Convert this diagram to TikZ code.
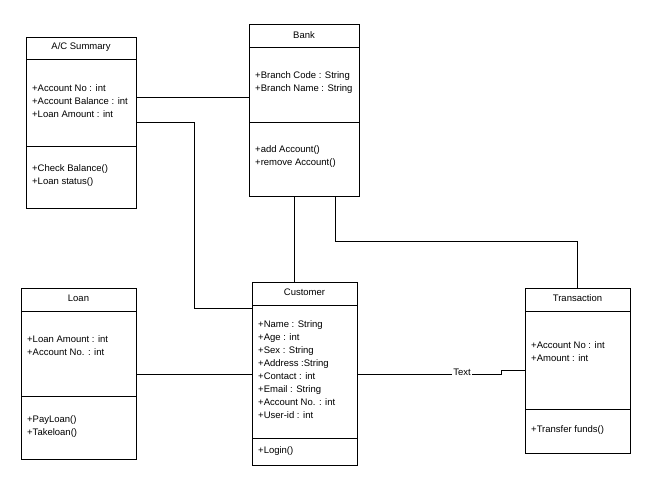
\documentclass[tikz,border=0pt]{standalone}
\usepackage{fontspec}
\setmainfont{Liberation Sans}
\begin{document}
\begin{tikzpicture}[x=1pt,y=-1pt,
  box/.style={draw,line width=0.9pt,inner sep=0pt},
  ln/.style={line width=0.9pt},
  txt/.style={font=\fontsize{9.5}{13}\selectfont,anchor=west,inner sep=0pt,align=left},
  ttl/.style={font=\fontsize{9.5}{13}\selectfont,inner sep=0pt}]
\useasboundingbox (0,0) rectangle (651,490);
% A/C Summary
\node[box,minimum width=110pt,minimum height=171pt] (acs) at (81,122.5) {};
\draw[ln] (26,59) -- (136,59); \draw[ln] (26,146) -- (136,146);
\node[ttl] (acst) at (81,47) {A/C Summary};
\node[txt] (acsa) at (32,101) {+Account No : int\\+Account Balance : int\\+Loan Amount : int};
\node[txt] (acsm) at (32,175.5) {+Check Balance()\\+Loan status()};
% Bank
\node[box,minimum width=110pt,minimum height=172pt] (bank) at (304,110) {};
\draw[ln] (249,47) -- (359,47); \draw[ln] (249,122) -- (359,122);
\node[ttl] (bankt) at (304,35) {Bank};
\node[txt] (banka) at (255,83) {+Branch Code : String\\+Branch Name : String};
\node[txt] (bankm) at (255,157) {+add Account()\\+remove Account()};
% Loan
\node[box,minimum width=115pt,minimum height=171pt] (loan) at (78.5,373.5) {};
\draw[ln] (21,311) -- (136,311); \draw[ln] (21,396) -- (136,396);
\node[ttl] (loant) at (78.5,298) {Loan};
\node[txt] (loana) at (27,345.5) {+Loan Amount : int\\+Account No. : int};
\node[txt] (loanm) at (27,426.5) {+PayLoan()\\+Takeloan()};
% Customer
\node[box,minimum width=105pt,minimum height=183pt] (cust) at (304.5,373.5) {};
\draw[ln] (252,305) -- (357,305); \draw[ln] (252,438) -- (357,438);
\node[ttl] (custt) at (304.5,292) {Customer};
\node[txt] (custa) at (258,370) {+Name : String\\+Age : int\\+Sex : String\\+Address :String\\+Contact : int\\+Email : String\\+Account No. : int\\+User-id : int};
\node[txt] (custm) at (258,451) {+Login()};
% Transaction
\node[box,minimum width=105pt,minimum height=165pt] (tran) at (577.5,370.5) {};
\draw[ln] (525,311) -- (630,311); \draw[ln] (525,409) -- (630,409);
\node[ttl] (trant) at (577.5,298) {Transaction};
\node[txt] (trana) at (531,351.5) {+Account No : int\\+Amount : int};
\node[txt] (tranm) at (531,430) {+Transfer funds()};
% connectors
\coordinate (c1) at (194,122);
\draw[ln] (136,97) -- (249,97);
\draw[ln] (136,122) -- (c1) |- (252,308);
\draw[ln] (294,196) -- (294,282);
\draw[ln] (335,196) -- (335,241) -| (577,288);
\draw[ln] (136,374) -- (252,374);
\draw[ln] (357,374) -- (501,374) -- (501,370) -- (525,370);
\node[ttl,fill=white,inner sep=1pt] (lbl) at (462,372) {Text};
\end{tikzpicture}
\end{document}
